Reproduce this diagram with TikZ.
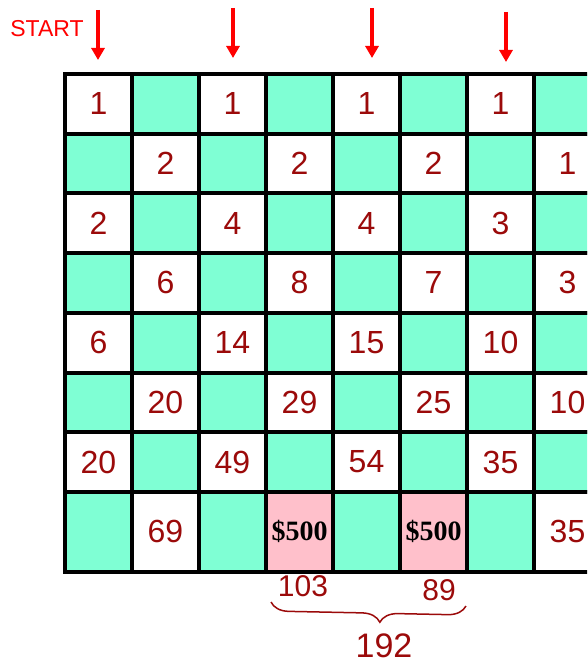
\documentclass[tikz,border=0pt]{standalone}
\usepackage{fontspec}
\setmainfont{Liberation Serif}
\setsansfont{Liberation Sans}
\usetikzlibrary{arrows.meta,decorations.pathreplacing}
\definecolor{mint}{HTML}{7FFFD4}
\definecolor{blush}{HTML}{FFC0CB}
\definecolor{ink}{HTML}{9B0A0A}
\begin{document}
\begin{tikzpicture}[
    x=1pt, y=-1pt,
    cell/.style={draw=black, line width=4pt, minimum width=67pt, minimum height=59.7pt, inner sep=0pt, anchor=north west, text=ink, font=\fontsize{32}{32}\selectfont\sffamily},
    lastrow/.style={cell, minimum height=80pt},
    prize/.style={lastrow, fill=blush, text=black, font=\fontsize{28}{28}\selectfont\rmfamily\bfseries},
    hand/.style={text=ink, inner sep=0pt, font=\fontsize{30}{30}\selectfont\sffamily},
    drop/.style={red, line width=4pt, -{Triangle[width=13pt,length=12pt]}},
    curly/.style={ink, line width=1.5pt, decorate, decoration={brace, mirror, amplitude=18pt, aspect=0.56}}
]
\clip (0,0) rectangle (587,668);

% ---- start ----
\node[text=red, font=\fontsize{23}{23}\selectfont\sffamily] (start) at (47,29) {START};
\foreach \i/\ax/\top/\tip in {1/98/10/60, 2/233/8/58, 3/372/8/58, 4/506/12/62} {
  \coordinate (s\i) at (\ax,\top);
  \coordinate (e\i) at (\ax,\tip);
  \draw[drop] (s\i) -- (e\i);
}

% ---- board ----
\foreach \row [count=\rw from 0] in {
    {1,{},1,{},1,{},1,{}},
    {{},2,{},2,{},2,{},1},
    {2,{},4,{},4,{},3,{}},
    {{},6,{},8,{},7,{},3},
    {6,{},14,{},15,{},10,{}},
    {{},20,{},29,{},25,{},10},
    {20,{},49,{},54,{},35,{}}} {
  \foreach \t [count=\cl from 0] in \row {
    \pgfmathtruncatemacro\odd{mod(\rw+\cl,2)}
    \ifnum\odd=0 \def\shade{white}\else\def\shade{mint}\fi
    \node[cell, fill=\shade] (c\rw\cl) at (63+67*\cl, 72+59.7*\rw) {\t};
  }
}

% ---- last row ----
\node[lastrow, fill=mint] (c70) at (63,489.9) {};
\node[lastrow, fill=white] (c71) at (130,489.9) {69};
\node[lastrow, fill=mint] (c72) at (197,489.9) {};
\node[prize] (c73) at (264,489.9) {\$500};
\node[lastrow, fill=mint] (c74) at (331,489.9) {};
\node[prize] (c75) at (398,489.9) {\$500};
\node[lastrow, fill=mint] (c76) at (465,489.9) {};
\node[lastrow, fill=white] (c77) at (532,489.9) {35};

% ---- sums ----
\node[hand] (sum1) at (303,586) {103};
\node[hand] (sum2) at (439,590) {89};
\coordinate (bl) at (271,602);
\coordinate (br) at (466,606);
\draw[curly] (bl) -- (br);
\node[hand, font=\fontsize{34}{34}\selectfont\sffamily] (total) at (384,646) {192};

\end{tikzpicture}
\end{document}
